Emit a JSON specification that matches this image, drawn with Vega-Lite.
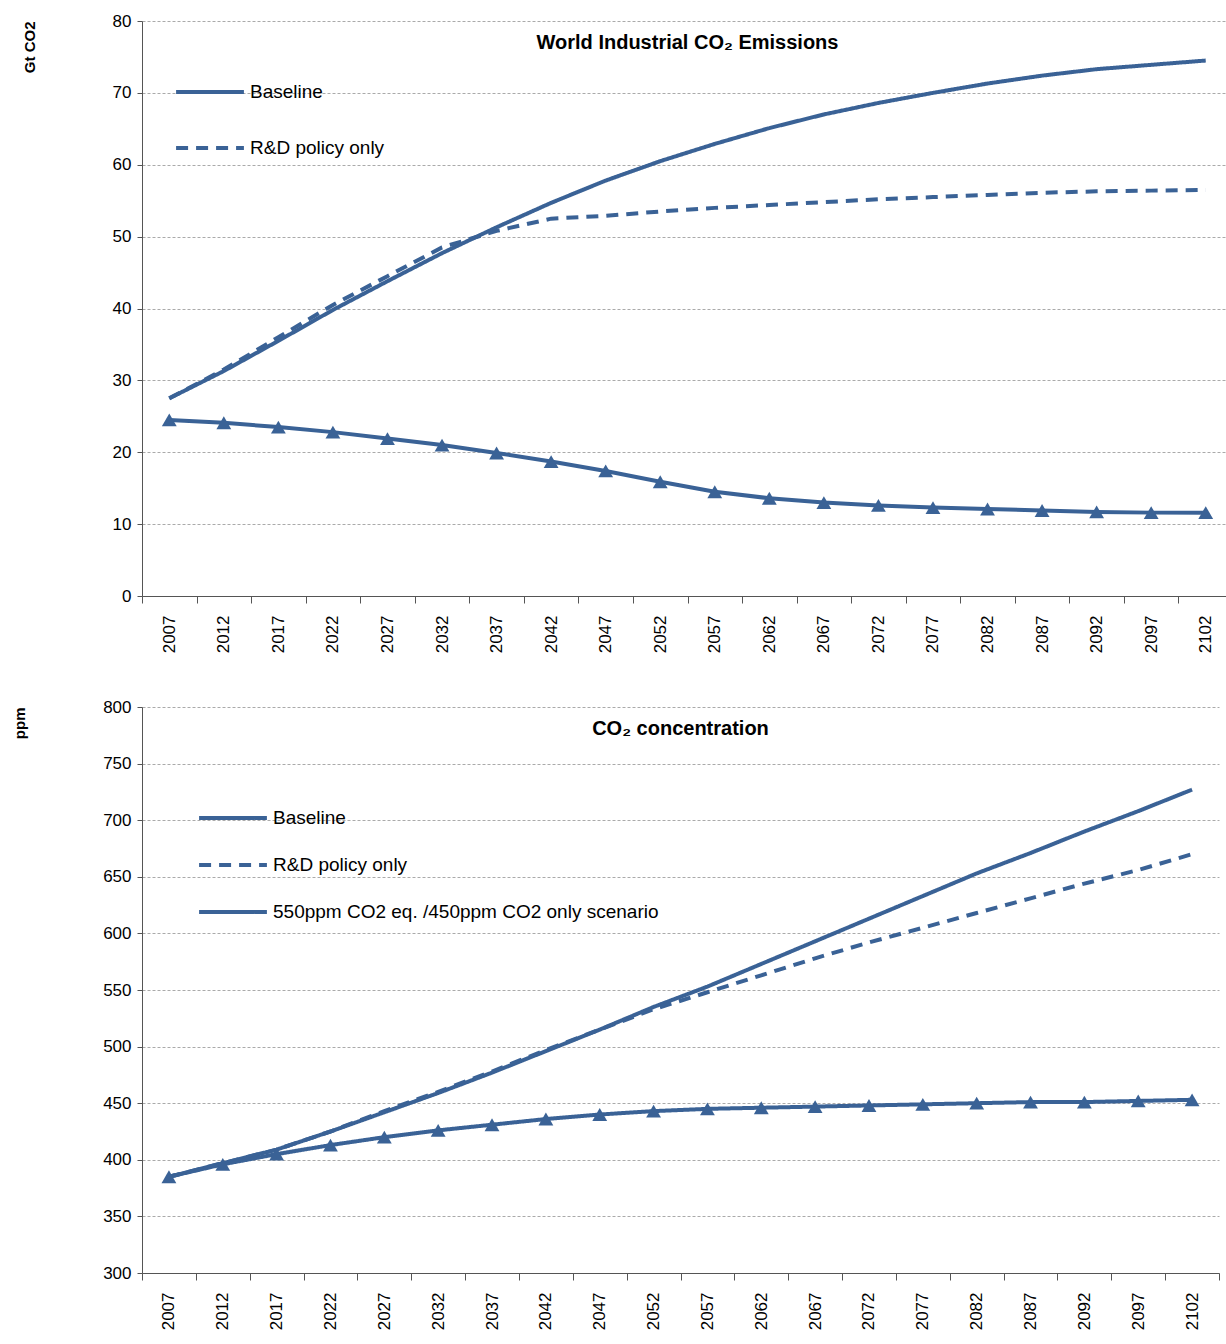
{
"$schema":"https://vega.github.io/schema/vega-lite/v6.json",
"background":"white",
"padding":{"left":12,"top":12,"right":2,"bottom":0},
"config":{"font":"Liberation Sans","view":{"stroke":null},
"axis":{"labelFont":"Liberation Sans","labelFontSize":17,"labelColor":"black","domainColor":"#555","tickColor":"#555","titleFont":"Liberation Sans","titleFontSize":15,"titleFontWeight":"bold","titleColor":"black"},
"legend":{"labelFont":"Liberation Sans","labelFontSize":19,"labelColor":"black","labelLimit":0}},
"resolve":{"scale":{"strokeDash":"independent"},"legend":{"strokeDash":"independent"}},
"spacing":45,
"vconcat":[
{"width":1091,"height":575,
"title":{"text":"World Industrial CO₂ Emissions","fontSize":20,"font":"Liberation Sans","fontWeight":"bold","offset":-41,"dx":0},
"data":{"values":[
{"y":"2007","b":27.5,"r":27.5,"s":24.5},{"y":"2012","b":31.3,"r":31.5,"s":24.1},{"y":"2017","b":35.5,"r":36,"s":23.5},{"y":"2022","b":39.8,"r":40.5,"s":22.8},{"y":"2027","b":43.8,"r":44.5,"s":21.9},{"y":"2032","b":47.7,"r":48.5,"s":21},{"y":"2037","b":51.3,"r":50.8,"s":19.9},{"y":"2042","b":54.7,"r":52.5,"s":18.7},{"y":"2047","b":57.8,"r":52.9,"s":17.4},{"y":"2052","b":60.5,"r":53.5,"s":15.9},{"y":"2057","b":62.9,"r":54,"s":14.5},{"y":"2062","b":65.1,"r":54.4,"s":13.6},{"y":"2067","b":67,"r":54.8,"s":13},{"y":"2072","b":68.6,"r":55.2,"s":12.6},{"y":"2077","b":70,"r":55.5,"s":12.3},{"y":"2082","b":71.3,"r":55.8,"s":12.1},{"y":"2087","b":72.4,"r":56.1,"s":11.9},{"y":"2092","b":73.3,"r":56.3,"s":11.7},{"y":"2097","b":73.9,"r":56.4,"s":11.6},{"y":"2102","b":74.5,"r":56.5,"s":11.6}]},
"layer":[
{"transform":[{"fold":["b","r"],"as":["k","v"]},{"calculate":"datum.k=='b'?'Baseline':'R&D policy only'","as":"series"}],
"mark":{"type":"line","strokeWidth":4,"color":"#3A6296"},
"encoding":{
"x":{"field":"y","type":"ordinal","scale":{"type":"band"},"axis":{"title":null,"labelAngle":-90,"labelPadding":12,"tickBand":"extent","tickSize":7,"grid":false}},
"y":{"field":"v","type":"quantitative","scale":{"domain":[0,80]},"axis":{"title":"Gt CO2","titleAngle":-90,"titleAnchor":"end","titleX":-105,"titleY":0,"titleAlign":"right","titleBaseline":"bottom","tickCount":8,"gridDash":[3,2],"gridColor":"#aaa","tickSize":5,"labelPadding":6}},
"strokeDash":{"field":"series","type":"nominal","scale":{"domain":["Baseline","R&D policy only"],"range":[[1,0],[12,8]]},"legend":{"title":null,"orient":"none","legendX":32,"legendY":35,"symbolType":"stroke","symbolStrokeColor":"#3A6296","symbolStrokeWidth":4,"symbolSize":4600,"rowPadding":10,"labelOffset":4}}}},
{"mark":{"type":"line","strokeWidth":4,"color":"#3A6296","point":{"shape":"triangle-up","size":220,"filled":true,"color":"#3A6296"}},
"encoding":{"x":{"field":"y","type":"ordinal"},"y":{"field":"s","type":"quantitative"}}}
]},
{"width":1077,"height":566,
"title":{"text":"CO₂  concentration","fontSize":20,"font":"Liberation Sans","fontWeight":"bold","offset":-41},
"data":{"values":[
{"y":"2007","b":385,"r":385,"s":385},{"y":"2012","b":397,"r":397,"s":396},{"y":"2017","b":409,"r":409,"s":405},{"y":"2022","b":425,"r":425,"s":413},{"y":"2027","b":442,"r":443,"s":420},{"y":"2032","b":459,"r":460,"s":426},{"y":"2037","b":477,"r":478,"s":431},{"y":"2042","b":496,"r":497,"s":436},{"y":"2047","b":515,"r":515,"s":440},{"y":"2052","b":535,"r":533,"s":443},{"y":"2057","b":553,"r":548,"s":445},{"y":"2062","b":573,"r":563,"s":446},{"y":"2067","b":593,"r":578,"s":447},{"y":"2072","b":613,"r":592,"s":448},{"y":"2077","b":633,"r":605,"s":449},{"y":"2082","b":653,"r":618,"s":450},{"y":"2087","b":671,"r":631,"s":451},{"y":"2092","b":690,"r":644,"s":451},{"y":"2097","b":708,"r":656,"s":452},{"y":"2102","b":727,"r":670,"s":453}]},
"transform":[{"fold":["b","r","s"],"as":["k","v"]},{"calculate":"datum.k=='b'?'Baseline':datum.k=='r'?'R&D policy only':'550ppm CO2 eq. /450ppm CO2 only scenario'","as":"series"}],
"layer":[
{"mark":{"type":"line","strokeWidth":4,"color":"#3A6296"},
"encoding":{
"x":{"field":"y","type":"ordinal","scale":{"type":"band"},"axis":{"title":null,"labelAngle":-90,"labelPadding":12,"tickBand":"extent","tickSize":7,"grid":false}},
"y":{"field":"v","type":"quantitative","scale":{"domain":[300,800]},"axis":{"title":"ppm","titleAngle":-90,"titleAnchor":"end","titleX":-115,"titleY":0,"titleAlign":"right","titleBaseline":"bottom","tickCount":10,"gridDash":[3,2],"gridColor":"#aaa","tickSize":5,"labelPadding":6}},
"strokeDash":{"field":"series","type":"nominal","scale":{"domain":["Baseline","R&D policy only","550ppm CO2 eq. /450ppm CO2 only scenario"],"range":[[1,0],[12,8],[1,0]]},"legend":{"title":null,"orient":"none","legendX":55,"legendY":75,"symbolType":"stroke","symbolStrokeColor":"#3A6296","symbolStrokeWidth":4,"symbolSize":4600,"rowPadding":1,"labelOffset":4}}}},
{"transform":[{"filter":"datum.k=='s'"}],"mark":{"type":"point","shape":"triangle-up","size":220,"filled":true,"color":"#3A6296","opacity":1},
"encoding":{"x":{"field":"y","type":"ordinal"},"y":{"field":"v","type":"quantitative"}}}
]}
]}
